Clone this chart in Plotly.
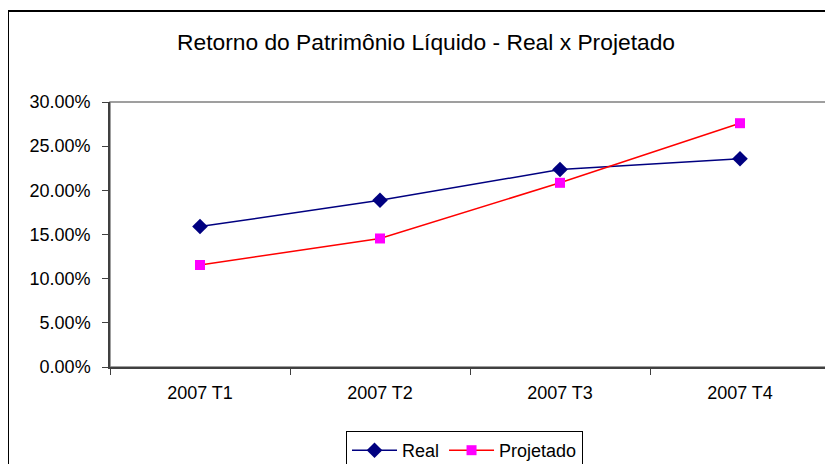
import plotly.graph_objects as go

categories = ["2007 T1", "2007 T2", "2007 T3", "2007 T4"]
real = [0.159, 0.1887, 0.2235, 0.2357]
projetado = [0.1155, 0.1455, 0.2085, 0.276]
y_ticks = [0, 0.05, 0.10, 0.15, 0.20, 0.25, 0.30]

# screenshot geometry (page body adds an 8px offset)
OFF = 8
W, H = 833 - OFF, 464 - OFF
PL, PR, PT, PB = 110, 830, 102, 367  # plot area in screenshot pixels
L, T = PL - OFF, PT - OFF
R = W - (PR - OFF)
B = H - (PB - OFF)

def px(x):
    return (x - PL) / (PR - PL)

def py(y):
    return (PB - y) / (PB - PT)

font = "Liberation Sans, Arial, sans-serif"

fig = go.Figure()
fig.add_trace(go.Scatter(
    x=categories, y=real, name="Real", mode="lines+markers",
    line=dict(color="#000080", width=1.5),
    marker=dict(symbol="diamond", size=12, color="#000080"),
))
fig.add_trace(go.Scatter(
    x=categories, y=projetado, name="Projetado", mode="lines+markers",
    line=dict(color="#FF0000", width=1.5),
    marker=dict(symbol="square", size=10, color="#FF00FF"),
))

fig.update_layout(
    width=W, height=H,
    margin=dict(l=L, r=R, t=T, b=B, pad=0, autoexpand=False),
    paper_bgcolor="white", plot_bgcolor="white",
    font=dict(family=font, size=18, color="black"),
    title=dict(text="Retorno do Patrimônio Líquido - Real x Projetado",
               x=(426 - OFF) / W, xanchor="center", xref="container",
               y=1 - (42 - OFF) / H, yanchor="middle", yref="container",
               font=dict(size=22.8, family=font, color="black")),
    showlegend=True,
    legend=dict(orientation="h", x=px(346), y=py(431), xanchor="left", yanchor="top",
                bordercolor="black", borderwidth=1, font=dict(size=18),
                itemwidth=45, tracegroupgap=0),
    xaxis=dict(range=[-0.5, 3.5], showgrid=False, showline=True, linecolor="#404040",
               linewidth=1.5, ticks="outside", ticklen=6, tickcolor="#404040",
               tickson="boundaries", ticklabelstandoff=9, tickfont=dict(size=18),
               fixedrange=True),
    yaxis=dict(range=[0, 0.30], tickvals=y_ticks, tickformat=".2%", showgrid=False,
               showline=True, linecolor="#404040", linewidth=1.5, ticks="outside",
               ticklen=6, tickcolor="#404040", ticklabelstandoff=8,
               tickfont=dict(size=18), zeroline=False, fixedrange=True),
)

# plot area border (gray)
fig.add_shape(type="rect", xref="paper", yref="paper", x0=0, x1=1, y0=0, y1=1,
              line=dict(color="#808080", width=1.5), layer="below")
# outer chart border
fig.add_shape(type="rect", xref="paper", yref="paper",
              x0=px(8), x1=px(845), y0=py(475), y1=py(11),
              line=dict(color="black", width=2), layer="below")

fig.write_html("out.html")
